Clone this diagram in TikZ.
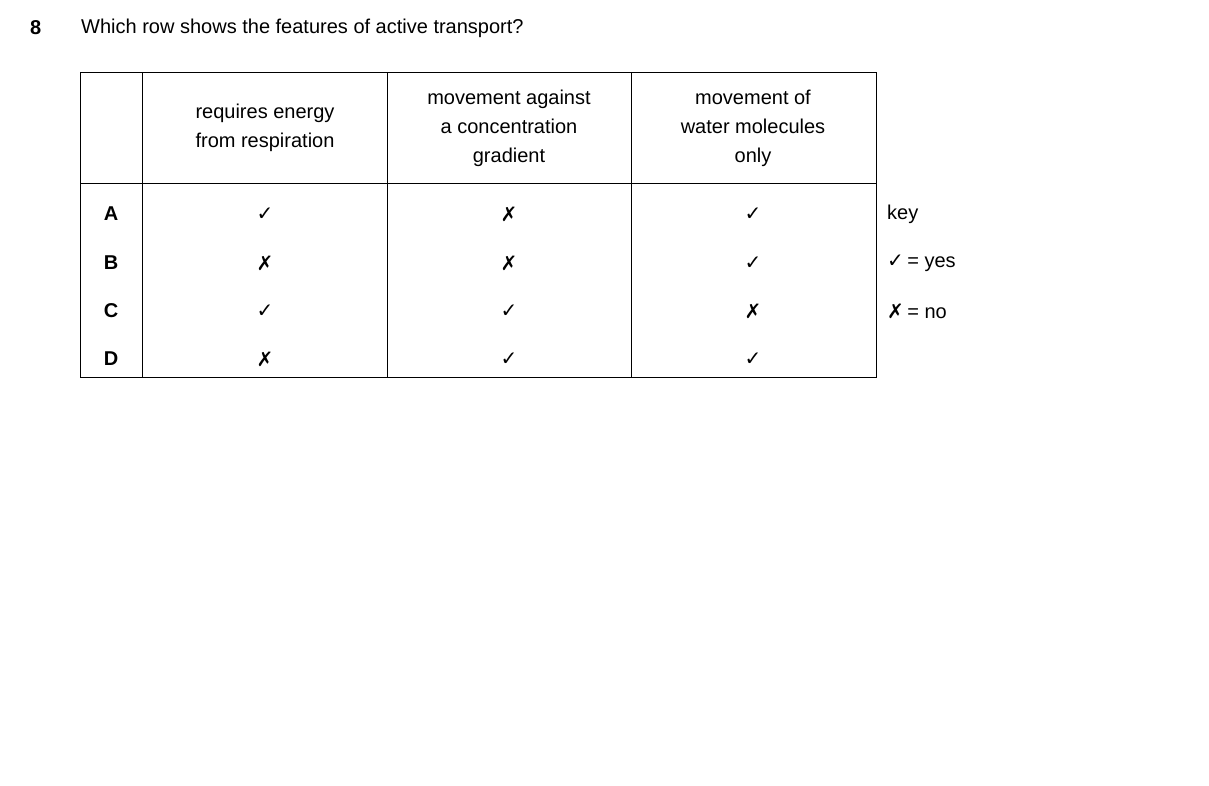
\documentclass[tikz,border=0pt]{standalone}
\usepackage{fontspec}
\setmainfont{Liberation Sans}
\newfontfamily\symfont{DejaVu Sans}
\usetikzlibrary{positioning}
\newcommand*{\yes}{{\symfont\char"2713}}
\newcommand*{\no}{{\symfont\char"2717}}

\begin{document}
\begin{tikzpicture}[x=1pt,y=-1pt,
  txt/.style={font=\fontsize{20}{29}\selectfont,inner sep=0pt},
  head/.style={txt,align=center},
  tick/.style={txt},
  letter/.style={txt,font=\fontsize{20}{29}\selectfont\bfseries}]
\useasboundingbox (0,0) rectangle (1209,785);
% Question
\node[letter,anchor=west] (num) at (30,28) {8};
\node[txt,anchor=west] (quest) at (81,28) {Which row shows the features of active transport?};
% Table frame
\draw[line width=1pt] (80,72) rectangle (876,377);
\draw[line width=1pt] (80,183) -- (876,183);
\foreach \x in {142,387,631} \draw[line width=1pt] (\x,72) -- (\x,377);
% Headings
\node[head] (h1) at (265,128) {requires energy\\from respiration};
\node[head] (h2) at (509,128) {movement against\\a concentration\\gradient};
\node[head] (h3) at (753,128) {movement of\\water molecules\\only};
% Rows
\foreach \l/\y/\a/\b/\c in {A/214/\yes/\no/\yes, B/263/\no/\no/\yes,
                           C/311/\yes/\yes/\no, D/359/\no/\yes/\yes} {
  \node[letter] (row\l) at (111,\y) {\l};
  \node[tick] (a\l) at (265,\y) {\a};
  \node[tick] (b\l) at (509,\y) {\b};
  \node[tick] (c\l) at (753,\y) {\c};
}
% Key
\node[txt,anchor=west] (key) at (887,214) {key};
\node[txt,anchor=west] (keyyes) at (887,263) {\yes\,= yes};
\node[txt,anchor=west] (keyno) at (887,311) {\no\,= no};
\end{tikzpicture}
\end{document}
